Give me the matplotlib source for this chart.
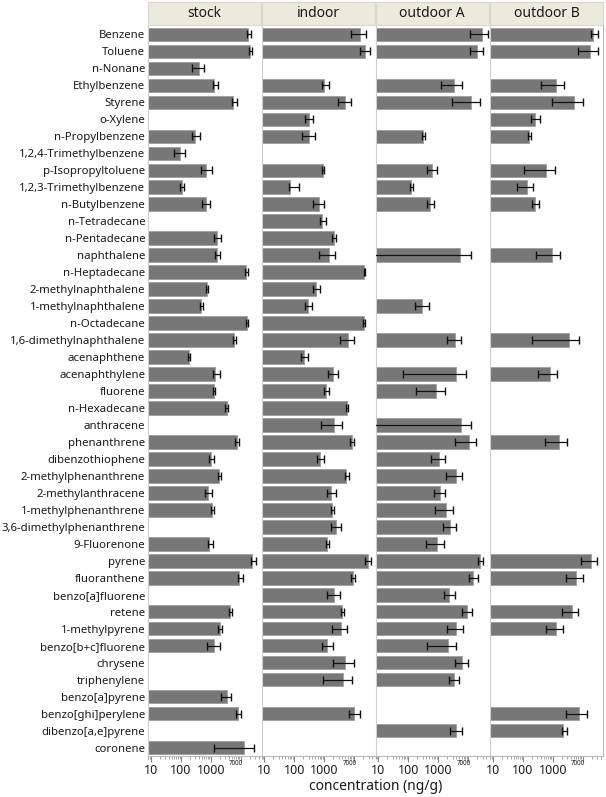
import numpy as np
import matplotlib
matplotlib.use('Agg')
import matplotlib.pyplot as plt
from matplotlib.patches import Rectangle
from matplotlib.ticker import LogLocator, NullFormatter, FixedLocator, FixedFormatter
import matplotlib.transforms as mtransforms

N = np.nan

compounds = [
    "Benzene", "Toluene", "n-Nonane", "Ethylbenzene", "Styrene", "o-Xylene",
    "n-Propylbenzene", "1,2,4-Trimethylbenzene", "p-Isopropyltoluene",
    "1,2,3-Trimethylbenzene", "n-Butylbenzene", "n-Tetradecane", "n-Pentadecane",
    "naphthalene", "n-Heptadecane", "2-methylnaphthalene", "1-methylnaphthalene",
    "n-Octadecane", "1,6-dimethylnaphthalene", "acenaphthene", "acenaphthylene",
    "fluorene", "n-Hexadecane", "anthracene", "phenanthrene", "dibenzothiophene",
    "2-methylphenanthrene", "2-methylanthracene", "1-methylphenanthrene",
    "3,6-dimethylphenanthrene", "9-Fluorenone", "pyrene", "fluoranthene",
    "benzo[a]fluorene", "retene", "1-methylpyrene", "benzo[b+c]fluorene",
    "chrysene", "triphenylene", "benzo[a]pyrene", "benzo[ghi]perylene",
    "dibenzo[a,e]pyrene", "coronene",
]

panels = ["stock", "indoor", "outdoor A", "outdoor B"]

# concentration (ng/g): mean, lower and upper end of the error bar
stock_mean = [17600, 20100, 392, 1270, 5570, N, 295, 93, 686, 111, 670, N, 1560, 1560,
              14800, 724, 479, 15600, 6020, 186, 1370, 1240, 3360, N, 7240, 1010, 1860,
              782, 1090, N, 883, 24000, 8830, N, 4320, 2010, 1270, N, N, 3360, 8180, N, 13000]
stock_lo = [15600, 18600, 240, 1150, 5160, N, 234, 60, 467, 95, 505, N, 1270, 1340,
            13700, 686, 443, 14400, 5570, 176, 1200, 1150, 3020, N, 6350, 883, 1720,
            650, 984, N, 818, 21200, 8000, N, 4010, 1760, 724, N, N, 2120, 6860, N, 1300]
stock_hi = [21200, 23400, 603, 1760, 7240, N, 433, 140, 1090, 130, 933, N, 2120, 2010,
            17200, 800, 532, 16800, 6700, 201, 2010, 1370, 3800, N, 8430, 1270, 2120,
            1060, 1270, N, 1150, 31100, 11500, N, 4930, 2400, 2010, N, N, 4680, 9840, N, 27300]

indoor_mean = [15100, 22200, N, 1010, 4790, 318, 318, N, 883, 70, 686, 843, 2060, 1400,
               21700, 532, 279, 20600, 6200, 206, 1900, 1150, 5750, 2170, 8430, 702, 5320,
               1720, 1820, 2470, 1240, 27900, 8830, 2060, 3920, 3630, 1240, 5050, 4230, N,
               10100, N, N]
indoor_lo = [7820, 15100, N, 843, 2790, 234, 182, N, 843, 65, 423, 741, 1820, 650,
             20600, 410, 234, 19000, 3440, 160, 1300, 955, 5450, 782, 7020, 575, 4790,
             1240, 1680, 1680, 1150, 23400, 7820, 1180, 3630, 1820, 843, 1900, 883, N,
             6860, N, N]
indoor_hi = [25300, 34400, N, 1400, 7820, 423, 505, N, 1010, 140, 1010, 1150, 2530, 2340,
             23400, 741, 392, 22200, 10100, 279, 2790, 1480, 6200, 3920, 10100, 955, 6500,
             2530, 2060, 3630, 1480, 36300, 10900, 3260, 4430, 5750, 1900, 9550, 8430, N,
             15100, N, N]

outA_mean = [27900, 20100, N, 3260, 12300, N, 309, N, 617, 120, 516, N, N, 5160, N, N,
             295, N, 3520, N, 3800, 863, N, 5570, 10500, 1050, 3800, 1110, 1760, 2400,
             904, 24000, 14300, 2270, 9040, 4010, 2100, 6170, 3260, N, N, 4010, N]
outA_lo = [11700, 11700, N, 1180, 2950, N, 286, N, 433, 111, 420, N, N, 5, N, N,
           172, N, 2010, N, 67, 186, N, 5, 3520, 589, 1860, 702, 759, 1430,
           380, 21000, 10300, 1550, 6170, 2010, 433, 3520, 2220, N, N, 2530, N]
outA_hi = [46000, 30900, N, 6170, 24000, N, 352, N, 933, 143, 702, N, N, 12700, N, N,
           479, N, 5890, N, 8180, 1720, N, 12000, 18600, 1720, 6350, 1720, 3090, 3800,
           1550, 30900, 21000, 3520, 13300, 6650, 4010, 9770, 4900, N, N, 6350, N]

outB_mean = [22200, 17200, N, 1270, 5050, 253, 163, N, 575, 134, 259, N, N, 912, N, N,
             N, N, 3520, N, 800, N, N, N, 1630, N, N, N, N, N, N, 18200, 5890, N, 4230,
             1270, N, N, N, N, 7590, 2220, N]
outB_lo = [18200, 7020, N, 401, 955, 186, 145, N, 109, 62, 206, N, N, 273, N, N,
           N, N, 196, N, 326, N, N, N, 545, N, N, N, N, N, N, 8430, 2670, N, 2060,
           575, N, N, N, N, 2670, 2060, N]
outB_hi = [32600, 31100, N, 2400, 10300, 372, 186, N, 1180, 222, 352, N, N, 1720, N, N,
           N, N, 7410, N, 1400, N, N, N, 3020, N, N, N, N, N, N, 30200, 10300, N, 7020,
           2220, N, N, N, N, 14000, 2880, N]

means = [stock_mean, indoor_mean, outA_mean, outB_mean]
los = [stock_lo, indoor_lo, outA_lo, outB_lo]
his = [stock_hi, indoor_hi, outA_hi, outB_hi]

XMIN, XMAX = 8, 47000
W, H = 606, 797
FONT = ['Noto Sans', 'DejaVu Sans']
plt.rcParams['font.family'] = FONT

fig = plt.figure(figsize=(W / 100, H / 100), dpi=100)
lefts = [148, 261.5, 375.5, 490]
pw = 113
top_px, bot_px = 26, 756
y = np.arange(len(compounds))

for i, name in enumerate(panels):
    ax = fig.add_axes([lefts[i] / W, 1 - bot_px / H, pw / W, (bot_px - top_px) / H])
    m = np.array(means[i], dtype=float)
    lo = np.array(los[i], dtype=float)
    hi = np.array(his[i], dtype=float)
    ok = ~np.isnan(m)
    ax.barh(y[ok], m[ok] - XMIN, left=XMIN, height=0.8, color='#777777',
            edgecolor='#a3a3a3', linewidth=0.7, zorder=2)
    ax.errorbar(m[ok], y[ok], xerr=[m[ok] - lo[ok], hi[ok] - m[ok]], fmt='none',
                ecolor='#111111', elinewidth=0.9, capsize=3.2, capthick=1.0, zorder=3)
    ax.set_xscale('log')
    ax.set_xlim(XMIN, XMAX)
    ax.set_ylim(len(compounds) - 0.5, -0.5)

    ax.xaxis.set_major_locator(FixedLocator([10, 100, 1000, 10000]))
    ax.xaxis.set_major_formatter(FixedFormatter(['10', '100', '1000', '']))
    ax.xaxis.set_minor_locator(LogLocator(base=10, subs=np.arange(2, 10), numticks=20))
    ax.xaxis.set_minor_formatter(NullFormatter())
    ax.tick_params(axis='x', which='major', length=4, width=0.8, color='#888888',
                   labelsize=9, pad=2, labelcolor='#1a1a1a')
    ax.tick_params(axis='x', which='minor', length=2, width=0.6, color='#999999')
    trans = mtransforms.blended_transform_factory(ax.transData, ax.transAxes)
    ax.text(7000, -0.005, '7000', transform=trans, ha='center', va='top',
            fontsize=4.5, color='#1a1a1a')

    if i == 0:
        ax.set_yticks(y)
        ax.set_yticklabels(compounds, fontsize=8.2, color='#1a1a1a')
        ax.tick_params(axis='y', length=0, pad=2)
    else:
        ax.set_yticks([])

    for s in ['top', 'right']:
        ax.spines[s].set_visible(False)
    ax.spines['left'].set_color('#cfcfcf')
    ax.spines['bottom'].set_color('#bbbbbb')
    if i == len(panels) - 1:
        ax.spines['right'].set_visible(True)
        ax.spines['right'].set_color('#bbbbbb')

    # header strip
    fig.patches.append(Rectangle((lefts[i] / W, 1 - 25 / H), pw / W, 23 / H,
                                 transform=fig.transFigure, facecolor='#ebeadf',
                                 edgecolor='#d9d7cc', linewidth=0.8))
    fig.text((lefts[i] + pw / 2) / W, 1 - 13.5 / H, name, ha='center', va='center',
             fontsize=10, color='#1a1a1a')

fig.text(376 / W, 1 - 786 / H, 'concentration (ng/g)', ha='center', va='center',
         fontsize=10, color='#1a1a1a')

fig.savefig('out.png', dpi=100, facecolor='white')
